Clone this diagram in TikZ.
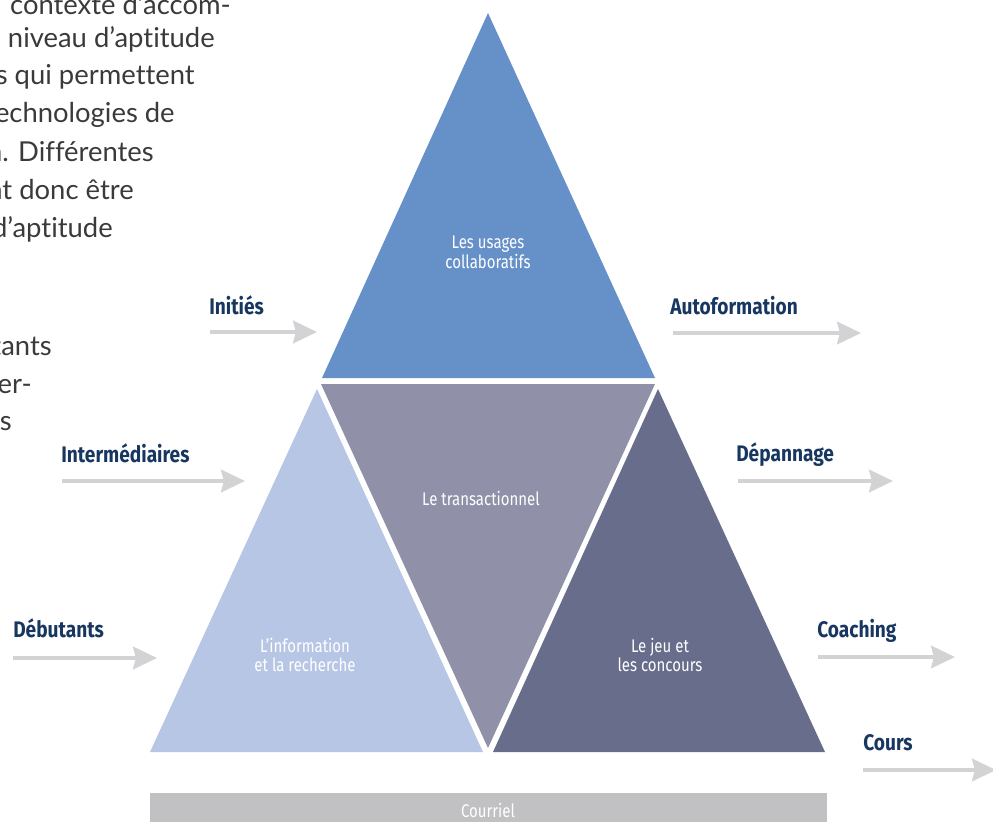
\documentclass[tikz,border=0pt]{standalone}
\usepackage{fontspec}
\setmainfont[Ligatures=NoCommon]{Lato}
\newfontfamily\condfont[FakeStretch=0.82]{Fira Sans}
\newfontfamily\labfont[FakeStretch=0.85]{Fira Sans}
\usetikzlibrary{arrows.meta}

\definecolor{topblue}{HTML}{6690C8}
\definecolor{lightblue}{HTML}{B7C6E5}
\definecolor{midgrey}{HTML}{9091A8}
\definecolor{darkblue}{HTML}{676D8A}
\definecolor{barGrey}{HTML}{C1C1C3}
\definecolor{arrowGrey}{HTML}{D3D3D5}
\definecolor{navy}{HTML}{173660}
\definecolor{bodyGrey}{HTML}{3A3A3A}

\tikzstyle{nL}=[anchor=base west, inner sep=0pt, text=navy, font=\labfont\bfseries\fontsize{16}{18}\selectfont]
\tikzstyle{tT}=[inner sep=0pt, align=center, text=white, font=\condfont\fontsize{13}{14}\selectfont]
\tikzstyle{aS}=[line width=2.8pt, draw=arrowGrey, -{Stealth[length=17pt,width=16pt,inset=2pt,fill=arrowGrey]}]
\tikzstyle{bT}=[anchor=base east, inner sep=0pt, text=bodyGrey, font=\fontsize{19.5}{23}\selectfont]

\begin{document}
\begin{tikzpicture}[x=0.025cm, y=-0.025cm]
    \useasboundingbox (0,0) rectangle (993,822);
    \clip (0,0) rectangle (993,822);
    % triangles
    \fill[topblue]   (488,13)  -- (322,378) -- (655,378) -- cycle;
    \fill[midgrey]   (321,384) -- (655,384) -- (488,748) -- cycle;
    \fill[lightblue] (317,389) -- (150,752) -- (483,752) -- cycle;
    \fill[darkblue]  (658,389) -- (493,752) -- (825,752) -- cycle;
    \fill[barGrey]   (150,793) rectangle (827,822);
    \draw (488,252) node[tT] (tCollab) {Les usages\\collaboratifs};
    \draw (481,498) node[tT] (tTrans) {Le transactionnel};
    \draw (305,655) node[tT] (tInfo) {L’information\\et la recherche};
    \draw (660,655) node[tT] (tJeu) {Le jeu et\\les concours};
    \draw (488,810) node[tT] (tMail) {Courriel};
    % body text (cut)
    \draw (231,15)  node[bT] (b1) {contexte d’accom-};
    \draw (215,48)  node[bT] (b2) {niveau d’aptitude};
    \draw (195,84)  node[bT] (b3) {s qui permettent};
    \draw (175,122) node[bT] (b4) {echnologies de};
    \draw (154,161) node[bT] (b5) {n. Différentes};
    \draw (134,199) node[bT] (b6) {nt donc être};
    \draw (113,237) node[bT] (b7) {d’aptitude};
    \draw (52,355)  node[bT] (b8) {tants};
    \draw (32,393)  node[bT] (b9) {er-};
    \draw (12,430)  node[bT] (b10) {s};
    % levels
    \draw (209,314) node[nL] (lInit) {Initiés};
    \draw (61,462)  node[nL] (lInter) {Intermédiaires};
    \draw (13,637)  node[nL] (lDeb) {Débutants};
    \draw (670,314) node[nL] (lAuto) {Autoformation};
    \draw (736,461) node[nL] (lDep) {Dépannage};
    \draw (817,637) node[nL] (lCoach) {Coaching};
    \draw (863,750) node[nL] (lCours) {Cours};
    \coordinate (sInit) at (210,332);  \coordinate (eInit) at (317,332);
    \coordinate (sInter) at (62,481);  \coordinate (eInter) at (245,481);
    \coordinate (sDeb) at (13,658);    \coordinate (eDeb) at (157,658);
    \coordinate (sAuto) at (673,333);  \coordinate (eAuto) at (861,333);
    \coordinate (sDep) at (738,481);   \coordinate (eDep) at (893,481);
    \coordinate (sCoach) at (818,657); \coordinate (eCoach) at (955,657);
    \coordinate (sCours) at (863,770); \coordinate (eCours) at (996,770);
    \path
        (sInit) edge[aS] (eInit)
        (sInter) edge[aS] (eInter)
        (sDeb) edge[aS] (eDeb)
        (sAuto) edge[aS] (eAuto)
        (sDep) edge[aS] (eDep)
        (sCoach) edge[aS] (eCoach)
        (sCours) edge[aS] (eCours)
    ;
\end{tikzpicture}
\end{document}
